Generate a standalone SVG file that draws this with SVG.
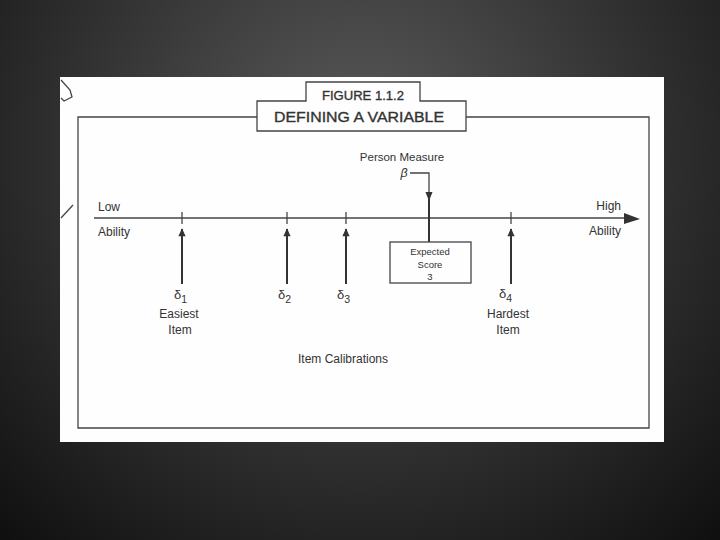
<svg xmlns="http://www.w3.org/2000/svg" width="720" height="540" viewBox="0 0 720 540">
  <defs>
    <radialGradient id="bg" cx="360" cy="150" r="540" gradientUnits="userSpaceOnUse">
      <stop offset="0" stop-color="#5a5a5a"/>
      <stop offset="0.55" stop-color="#303030"/>
      <stop offset="1" stop-color="#0e0e0e"/>
    </radialGradient>
    <marker id="up" viewBox="0 0 10 10" refX="9" refY="5" markerWidth="9" markerHeight="8" orient="auto" markerUnits="userSpaceOnUse">
      <path d="M0,0.5 L10,5 L0,9.5 Z" fill="#333"/>
    </marker>
  </defs>
  <style>
    .t { font-family: "Liberation Sans", Arial, sans-serif; fill: #333; }
    .ln { stroke: #444; stroke-width: 1.3; fill: none; }
    .ar { stroke: #333; stroke-width: 2; fill: none; }
    .lab { font-size: 12px; }
    .ttl { stroke: #333; stroke-width: 0.35; }
  </style>
  <rect width="720" height="540" fill="url(#bg)"/>
  <rect x="60" y="77" width="604" height="365" fill="#fefefe"/>

  <!-- scan artifacts -->
  <g id="artifacts" class="ln">
    <path d="M61,80 L70,90 L72,97 L64,101 L61,98"/>
    <path d="M61,218 L73,205"/>
  </g>

  <!-- frame -->
  <g id="frame">
    <path class="ln" d="M257,117 L78,117 L78,428 L649,428 L649,117 L466,117"/>
  </g>

  <!-- title -->
  <g id="title">
    <path class="ln" d="M257,101 L306,101 L306,82 L420,82 L420,101 L466,101 L466,131 L257,131 Z"/>
    <text class="t ttl" x="363" y="100" font-size="12.5" text-anchor="middle" textLength="82" lengthAdjust="spacingAndGlyphs">FIGURE 1.1.2</text>
    <text class="t ttl" x="359" y="122" font-size="15" text-anchor="middle" textLength="170" lengthAdjust="spacingAndGlyphs">DEFINING A VARIABLE</text>
  </g>

  <!-- axis -->
  <g id="axis">
    <line class="ln" x1="94" y1="218" x2="628" y2="218"/>
    <path d="M624,213 L640,219 L624,224 Z" fill="#333"/>
    <text class="t lab" x="98" y="211">Low</text>
    <text class="t lab" x="98" y="236">Ability</text>
    <text class="t lab" x="621" y="210" text-anchor="end">High</text>
    <text class="t lab" x="621" y="235" text-anchor="end">Ability</text>
    <line class="ln" x1="182" y1="212" x2="182" y2="224"/>
    <line class="ln" x1="287" y1="212" x2="287" y2="224"/>
    <line class="ln" x1="346" y1="212" x2="346" y2="224"/>
    <line class="ln" x1="511" y1="212" x2="511" y2="224"/>
  </g>

  <!-- connectors -->
  <g id="connectors">
    <line class="ar" x1="182" y1="284" x2="182" y2="229" marker-end="url(#up)"/>
    <line class="ar" x1="287" y1="284" x2="287" y2="229" marker-end="url(#up)"/>
    <line class="ar" x1="346" y1="284" x2="346" y2="229" marker-end="url(#up)"/>
    <line class="ar" x1="511" y1="284" x2="511" y2="229" marker-end="url(#up)"/>
    <path class="ln" d="M410,173 L429,173 L429,200"/>
    <path d="M425.5,192 L429,201 L432.5,192 Z" fill="#333"/>
    <line class="ar" x1="429" y1="199" x2="429" y2="242"/>
  </g>

  <!-- person measure -->
  <g id="person">
    <text class="t" x="402" y="161" font-size="11.5" text-anchor="middle">Person Measure</text>
    <text class="t" x="404" y="177" font-size="12.5" font-style="italic" text-anchor="middle">β</text>
  </g>

  <!-- expected score box -->
  <g id="expected">
    <rect class="ln" x="390" y="242" width="81" height="41"/>
    <text class="t" x="430" y="255" font-size="9.5" text-anchor="middle">Expected</text>
    <text class="t" x="430" y="268" font-size="9.5" text-anchor="middle">Score</text>
    <text class="t" x="430" y="280" font-size="9.5" text-anchor="middle">3</text>
  </g>

  <!-- item labels -->
  <g id="item1">
    <text class="t" x="174" y="299" font-size="13">δ<tspan font-size="10.5" dy="4">1</tspan></text>
    <text class="t lab" x="179" y="318" text-anchor="middle">Easiest</text>
    <text class="t lab" x="180" y="334" text-anchor="middle">Item</text>
  </g>
  <g id="item2">
    <text class="t" x="278" y="299" font-size="13">δ<tspan font-size="10.5" dy="4">2</tspan></text>
  </g>
  <g id="item3">
    <text class="t" x="337" y="299" font-size="13">δ<tspan font-size="10.5" dy="4">3</tspan></text>
  </g>
  <g id="item4">
    <text class="t" x="499" y="298" font-size="13">δ<tspan font-size="10.5" dy="4">4</tspan></text>
    <text class="t lab" x="508" y="318" text-anchor="middle">Hardest</text>
    <text class="t lab" x="508" y="334" text-anchor="middle">Item</text>
  </g>
  <g id="calibrations">
    <text class="t lab" x="343" y="363" text-anchor="middle">Item Calibrations</text>
  </g>
</svg>
